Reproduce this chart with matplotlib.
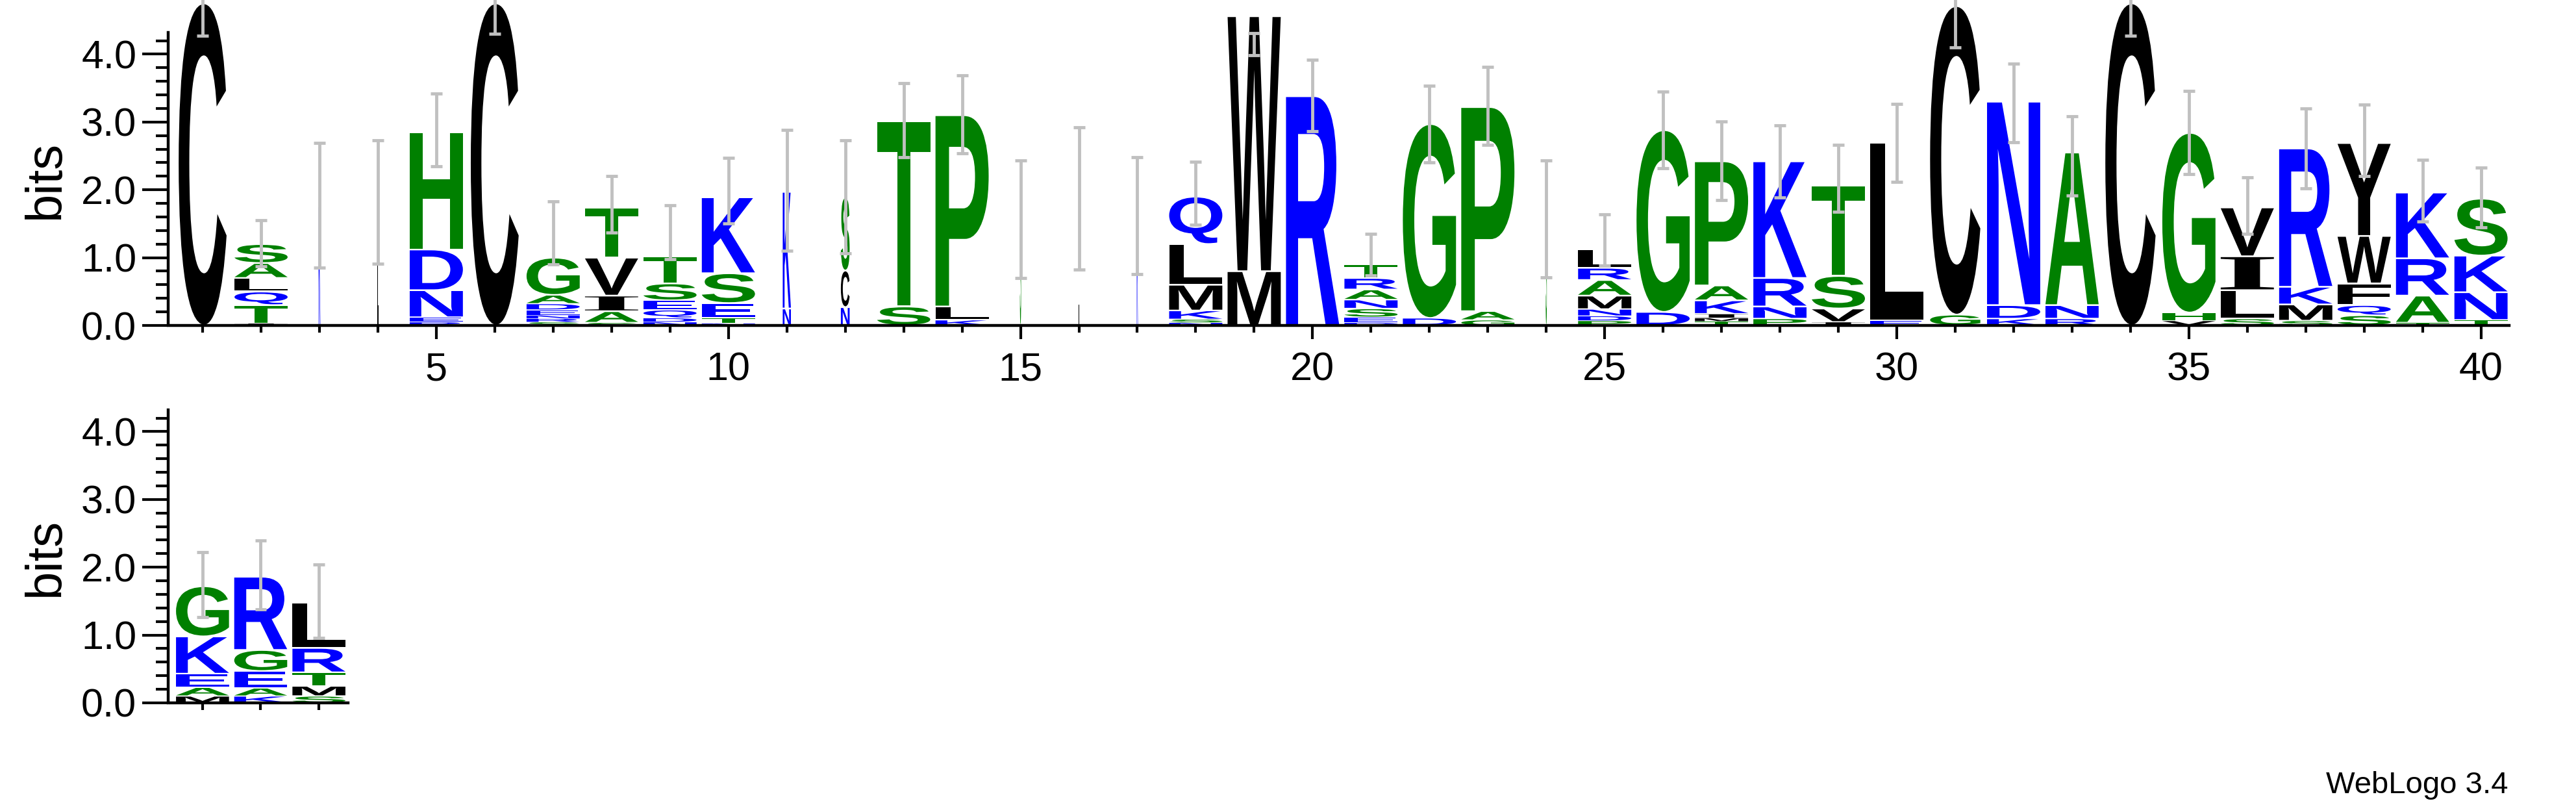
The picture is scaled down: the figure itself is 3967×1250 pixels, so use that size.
import matplotlib
matplotlib.use('Agg')
import matplotlib.pyplot as plt
from matplotlib.textpath import TextPath
from matplotlib.patches import PathPatch
from matplotlib.font_manager import FontProperties
from matplotlib.transforms import Affine2D

plt.rcParams['font.family'] = ['Liberation Sans', 'DejaVu Sans']

# stacks, bottom to top: (letter, bits)
stacks = [
    [('C', 4.75)],
    [('I', 0.03), ('T', 0.27), ('Q', 0.2), ('L', 0.2), ('A', 0.22), ('S', 0.28)],
    [('K', 1.76)],
    [('L', 1.8)],
    [('R', 0.05), ('E', 0.07), ('N', 0.4), ('D', 0.6), ('H', 1.73)],
    [('C', 4.75)],
    [('S', 0.05), ('R', 0.05), ('N', 0.05), ('E', 0.08), ('D', 0.09), ('A', 0.13), ('G', 0.55)],
    [('S', 0.04), ('A', 0.17), ('I', 0.23), ('V', 0.56), ('T', 0.74)],
    [('N', 0.05), ('D', 0.06), ('Q', 0.12), ('E', 0.14), ('S', 0.25), ('T', 0.4)],
    [('N', 0.03), ('T', 0.08), ('E', 0.22), ('S', 0.44), ('K', 1.12)],
    [('N', 0.25), ('K', 1.72)],
    [('N', 0.27), ('C', 0.54), ('S', 1.08)],
    [('S', 0.28), ('T', 2.73)],
    [('K', 0.08), ('L', 0.2), ('P', 2.82)],
    [('S', 1.57)],
    [('L', 1.86)],
    [('K', 1.61)],
    [('N', 0.04), ('S', 0.05), ('K', 0.13), ('M', 0.38), ('L', 0.6), ('Q', 0.7)],
    [('M', 0.8), ('W', 3.76)],
    [('R', 3.38)],
    [('D', 0.04), ('E', 0.08), ('S', 0.13), ('N', 0.13), ('A', 0.15), ('R', 0.17), ('T', 0.2)],
    [('D', 0.11), ('G', 2.86)],
    [('G', 0.08), ('A', 0.13), ('P', 3.01)],
    [('S', 1.57)],
    [('P', 0.07), ('D', 0.07), ('N', 0.1), ('M', 0.2), ('A', 0.23), ('R', 0.18), ('L', 0.27)],
    [('D', 0.2), ('G', 2.68)],
    [('T', 0.06), ('M', 0.05), ('I', 0.06), ('K', 0.2), ('A', 0.22), ('P', 1.83)],
    [('P', 0.1), ('N', 0.18), ('R', 0.42), ('K', 1.72)],
    [('I', 0.05), ('V', 0.2), ('S', 0.48), ('T', 1.33)],
    [('E', 0.07), ('L', 2.62)],
    [('G', 0.16), ('C', 4.55)],
    [('K', 0.1), ('D', 0.2), ('N', 3.0)],
    [('R', 0.1), ('N', 0.2), ('A', 2.25)],
    [('C', 4.75)],
    [('V', 0.07), ('H', 0.12), ('G', 2.65)],
    [('S', 0.1), ('L', 0.42), ('I', 0.5), ('V', 0.72)],
    [('S', 0.07), ('M', 0.24), ('K', 0.26), ('R', 2.04)],
    [('S', 0.15), ('Q', 0.15), ('F', 0.32), ('W', 0.7), ('Y', 1.37)],
    [('T', 0.04), ('A', 0.4), ('R', 0.55), ('K', 0.97)],
    [('T', 0.08), ('N', 0.41), ('K', 0.54), ('S', 0.84)],
    [('M', 0.1), ('A', 0.13), ('E', 0.2), ('K', 0.55), ('G', 0.74)],
    [('K', 0.1), ('A', 0.12), ('E', 0.25), ('G', 0.31), ('R', 1.08)],
    [('S', 0.1), ('M', 0.15), ('T', 0.2), ('R', 0.36), ('L', 0.67)],
]
# column widths (fraction of a position); gappy columns are narrow
col_width = [0.82, 0.91, 0.03, 0.02, 0.91, 0.82, 0.91, 0.91, 0.91, 0.91,
             0.14, 0.15, 0.91, 0.91, 0.02, 0.02, 0.02, 0.91, 0.91, 0.91,
             0.91, 0.91, 0.91, 0.02, 0.91, 0.91, 0.91, 0.91, 0.91, 0.91,
             0.86, 0.91, 0.91, 0.86, 0.91, 0.91, 0.91, 0.91, 0.91, 0.91,
             0.91, 0.91, 0.91]
err_lo = [4.27, 0.87, 0.85, 0.91, 2.35, 4.3, 0.9, 1.37, 0.98, 1.5,
          1.1, 1.06, 2.48, 2.54, 0.7, 0.82, 0.76, 1.48, 3.98, 2.86,
          0.74, 2.4, 2.66, 0.71, 0.88, 2.32, 1.85, 1.89, 1.68, 2.12,
          4.1, 2.7, 1.92, 4.27, 2.23, 1.35, 2.02, 2.2, 1.53, 1.45,
          1.26, 1.38, 0.96]
err_hi = [5.2, 1.55, 2.69, 2.73, 3.42, 5.2, 1.83, 2.2, 1.77, 2.47,
          2.88, 2.73, 3.57, 3.69, 2.43, 2.92, 2.48, 2.41, 4.31, 3.92,
          1.35, 3.53, 3.81, 2.43, 1.64, 3.45, 3.01, 2.95, 2.66, 3.27,
          5.2, 3.86, 3.08, 5.2, 3.46, 2.18, 3.2, 3.26, 2.44, 2.33,
          2.22, 2.39, 2.04]

colors = {}
for c in 'GSTPAH':
    colors[c] = '#008000'
for c in 'KRDENQ':
    colors[c] = '#0000ff'
for c in 'CWLMVIFY':
    colors[c] = '#000000'

fp = FontProperties(family='Liberation Sans', weight='bold')
fp_serif = FontProperties(family='Liberation Serif', weight='bold')


def draw_letter(ax, ch, x, base, w, h):
    tp = TextPath((0, 0), ch, size=1, prop=fp_serif if ch == 'I' else fp)
    ext = tp.get_extents()
    gap = min(0.025, h * 0.15)
    hh = max(h - gap, 1e-4)
    tr = (Affine2D().translate(-ext.x0, -ext.y0)
          .scale(w / ext.width, hh / ext.height)
          .translate(x - w / 2, base + gap / 2))
    ax.add_patch(PathPatch(tr.transform_path(tp), fc=colors[ch], ec='none',
                           lw=0, clip_on=False))


def draw_logo(ax, first, last):
    for i in range(first, last + 1):
        pos = i + 1
        w = col_width[i]
        base = 0.0
        for ch, h in stacks[i]:
            draw_letter(ax, ch, pos, base, w, h)
            base += h
        lo, hi = err_lo[i], min(err_hi[i], 5.0)
        ax.plot([pos, pos], [lo, hi], color='#c0c0c0', lw=3.5, clip_on=False,
                solid_capstyle='butt', zorder=5)
        for y in (lo, err_hi[i]):
            if y <= 4.6:
                ax.plot([pos - 0.1, pos + 0.1], [y, y], color='#c0c0c0', lw=3.5,
                        clip_on=False, solid_capstyle='butt', zorder=5)


def style(ax, xmin, xmax, labels):
    ax.set_xlim(xmin, xmax)
    ax.set_ylim(0, 4.32)
    for s in ('top', 'right'):
        ax.spines[s].set_visible(False)
    for s in ('left', 'bottom'):
        ax.spines[s].set_linewidth(3.2)
    ax.spines['left'].set_position(('outward', 3))
    ax.set_yticks([0, 1, 2, 3, 4])
    ax.set_yticklabels(['0.0', '1.0', '2.0', '3.0', '4.0'])
    ax.set_yticks([v / 5 for v in range(22)], minor=True)
    ax.tick_params(axis='y', which='major', length=29, width=3, labelsize=44, pad=6)
    ax.tick_params(axis='y', which='minor', length=14, width=3)
    ax.set_xticks(range(int(xmin) + 1, int(xmax) + 1), minor=True)
    if labels:
        ax.set_xticks([5, 10, 15, 20, 25, 30, 35, 40])
        ax.tick_params(axis='x', which='major', length=15, width=3, labelsize=44, pad=14)
    else:
        ax.set_xticks([])
    ax.tick_params(axis='x', which='minor', length=8, width=3)


fig = plt.figure(figsize=(39.67, 12.5), dpi=100)
ax1 = fig.add_axes([0.0663, 0.5992, 0.9077, 0.3608])
ax2 = fig.add_axes([0.0663, 0.1344, 0.0688, 0.3608])
draw_logo(ax1, 0, 39)
draw_logo(ax2, 40, 42)
style(ax1, 0.455, 40.48, True)
style(ax2, 40.455, 43.5, False)

fig.text(70 / 3967, 0.779, 'bits', rotation=90, ha='center', va='center', fontsize=56)
fig.text(70 / 3967, 0.3136, 'bits', rotation=90, ha='center', va='center', fontsize=56)
fig.text(3863 / 3967, 1 - 1209 / 1250, 'WebLogo 3.4', ha='right', va='center', fontsize=34)

fig.savefig('out.png', dpi=100)
